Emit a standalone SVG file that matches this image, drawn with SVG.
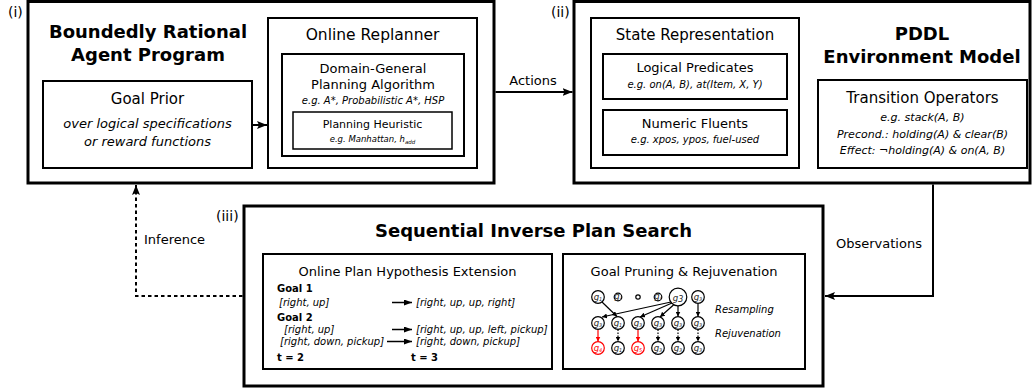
<svg xmlns="http://www.w3.org/2000/svg" width="1033" height="389" viewBox="0 0 1033 389">
<style>
.b3{fill:none;stroke:#000;stroke-width:3}
.b2{fill:none;stroke:#000;stroke-width:2}
.b15{fill:none;stroke:#000;stroke-width:1.5}
text{font-family:"DejaVu Sans","Liberation Sans",sans-serif;fill:#000}
.c{text-anchor:middle}
.bold{font-weight:bold}
.it{font-style:italic}
.lbl{font-size:14px}
.h{font-size:18px;font-weight:bold;text-anchor:middle}
.con{fill:none;stroke:#000;stroke-width:2}
.gc{fill:#fff;stroke:#000;stroke-width:1.2}
.gr{fill:#fff;stroke:#f00;stroke-width:1.2}
.gt{font-size:8.5px;font-style:italic;text-anchor:middle;fill:#222}
.gtr{font-size:8.5px;font-style:italic;text-anchor:middle;fill:#f00}
.ga{fill:none;stroke:#000;stroke-width:1.2}
.gd{fill:none;stroke:#000;stroke-width:1.2;stroke-dasharray:1.5,1.5}
.gra{fill:none;stroke:#f00;stroke-width:1.2}
</style>
<defs>
<marker id="ah" markerUnits="userSpaceOnUse" markerWidth="10" markerHeight="8" refX="10" refY="4" orient="auto">
<path d="M0,0 L10,4 L0,8 L2,4 z" fill="#000"/>
</marker>
<marker id="am" markerUnits="userSpaceOnUse" markerWidth="8" markerHeight="6" refX="8" refY="3" orient="auto">
<path d="M0,0 L8,3 L0,6 z" fill="#000"/>
</marker>
<marker id="as" markerUnits="userSpaceOnUse" markerWidth="5" markerHeight="5" refX="5" refY="2.5" orient="auto">
<path d="M0,0 L5,2.5 L0,5 z" fill="#000"/>
</marker>
<marker id="asr" markerUnits="userSpaceOnUse" markerWidth="5" markerHeight="5" refX="5" refY="2.5" orient="auto">
<path d="M0,0 L5,2.5 L0,5 z" fill="#f00"/>
</marker>
</defs>
<rect width="1033" height="389" fill="#fff"/>

<g id="agent">
<rect class="b3" x="28" y="1.5" width="466" height="181.5"/>
<text class="lbl" x="8" y="17">(i)</text>
<text class="h" x="148" y="38">Boundedly Rational</text>
<text class="h" x="148" y="61">Agent Program</text>
</g>
<g id="goal-prior">
<rect class="b2" x="43" y="81" width="209" height="87"/>
<text class="c" x="147.5" y="104" font-size="15">Goal Prior</text>
<text class="c it" x="147.5" y="128" font-size="13">over logical specifications</text>
<text class="c it" x="147.5" y="146" font-size="13">or reward functions</text>
</g>
<g id="online-replanner">
<rect class="b2" x="268" y="18" width="209" height="150"/>
<text class="c" x="372.5" y="40" font-size="15.5">Online Replanner</text>
</g>
<g id="planning-algorithm">
<rect class="b2" x="282" y="54" width="182" height="102"/>
<text class="c" x="373" y="73" font-size="13">Domain-General</text>
<text class="c" x="373" y="88.5" font-size="13">Planning Algorithm</text>
<text class="c it" x="373" y="104" font-size="10">e.g. A*, Probabilistic A*, HSP</text>
</g>
<g id="planning-heuristic">
<rect class="b15" x="293" y="112" width="159" height="37"/>
<text class="c" x="372.5" y="128" font-size="11">Planning Heuristic</text>
<text class="c it" x="372.5" y="142" font-size="8.5">e.g. Manhattan, h<tspan font-size="5.5" dy="1.5">add</tspan></text>
</g>

<g id="environment">
<rect class="b3" x="574" y="1.5" width="456" height="181.5"/>
<text class="lbl" x="551" y="17">(ii)</text>
<text class="h" x="922" y="40">PDDL</text>
<text class="h" x="922" y="63">Environment Model</text>
</g>
<g id="state-representation">
<rect class="b2" x="591" y="18" width="208" height="150"/>
<text class="c" x="695" y="40" font-size="15">State Representation</text>
</g>
<g id="logical-predicates">
<rect class="b2" x="603" y="54" width="184" height="45"/>
<text class="c" x="695" y="72" font-size="13">Logical Predicates</text>
<text class="c it" x="695" y="88" font-size="10">e.g. on(A, B), at(Item, X, Y)</text>
</g>
<g id="numeric-fluents">
<rect class="b2" x="603" y="110" width="184" height="45"/>
<text class="c" x="695" y="128" font-size="13">Numeric Fluents</text>
<text class="c it" x="695" y="143" font-size="10">e.g. xpos, ypos, fuel-used</text>
</g>
<g id="transition-operators">
<rect class="b2" x="818" y="80" width="209" height="88"/>
<text class="c" x="922.5" y="103" font-size="15">Transition Operators</text>
<text class="c it" x="922.5" y="121" font-size="11">e.g. stack(A, B)</text>
<text class="c it" x="922.5" y="138" font-size="11">Precond.: holding(A) &amp; clear(B)</text>
<text class="c it" x="922.5" y="154" font-size="11">Effect: ¬holding(A) &amp; on(A, B)</text>
</g>

<g id="sips">
<rect class="b3" x="244" y="206" width="579" height="180"/>
<text class="lbl" x="216" y="221">(iii)</text>
<text class="h" x="533.5" y="237">Sequential Inverse Plan Search</text>
</g>
<g id="plan-extension">
<rect class="b2" x="263" y="254" width="289" height="115"/>
<text class="c" x="407.5" y="276" font-size="13">Online Plan Hypothesis Extension</text>
<text class="bold" x="277" y="292" font-size="10">Goal 1</text>
<text class="it" x="279" y="306" font-size="10">[right, up]</text>
<text class="it" x="416" y="306" font-size="10">[right, up, up, right]</text>
<text class="bold" x="277" y="321" font-size="10">Goal 2</text>
<text class="it" x="284" y="333" font-size="10">[right, up]</text>
<text class="it" x="416" y="333" font-size="10">[right, up, up, left, pickup]</text>
<text class="it" x="280" y="345" font-size="10">[right, down, pickup]</text>
<text class="it" x="416" y="345" font-size="10">[right, down, pickup]</text>
<text class="bold" x="277" y="361" font-size="10">t = 2</text>
<text class="bold" x="411" y="361" font-size="10">t = 3</text>
<line class="b15" x1="392" y1="302.5" x2="412" y2="302.5" marker-end="url(#am)"/>
<line class="b15" x1="392" y1="329.5" x2="412" y2="329.5" marker-end="url(#am)"/>
<line class="b15" x1="387" y1="341.5" x2="412" y2="341.5" marker-end="url(#am)"/>
</g>
<g id="goal-pruning">
<rect class="b2" x="563" y="254" width="242" height="115"/>
<text class="c" x="684" y="276" font-size="13">Goal Pruning &amp; Rejuvenation</text>
<text class="it" x="715" y="313" font-size="10">Resampling</text>
<text class="it" x="715" y="337" font-size="10">Rejuvenation</text>
<line class="ga" x1="602" y1="302" x2="617" y2="316.5" marker-end="url(#as)"/>
<line class="ga" x1="671" y1="302" x2="602" y2="317" marker-end="url(#as)"/>
<line class="ga" x1="672" y1="303" x2="640" y2="317" marker-end="url(#as)"/>
<line class="ga" x1="674" y1="304.5" x2="660" y2="317" marker-end="url(#as)"/>
<line class="ga" x1="678" y1="306" x2="678" y2="316.5" marker-end="url(#as)"/>
<line class="ga" x1="698" y1="304" x2="698" y2="316.5" marker-end="url(#as)"/>
<line class="gra" x1="598" y1="329.5" x2="598" y2="341.5" marker-end="url(#asr)"/>
<line class="gd" x1="618" y1="329.5" x2="618" y2="341.5" marker-end="url(#as)"/>
<line class="gra" x1="638" y1="329.5" x2="638" y2="341.5" marker-end="url(#asr)"/>
<line class="gd" x1="658" y1="329.5" x2="658" y2="341.5" marker-end="url(#as)"/>
<line class="gd" x1="678" y1="329.5" x2="678" y2="341.5" marker-end="url(#as)"/>
<line class="gd" x1="698" y1="329.5" x2="698" y2="341.5" marker-end="url(#as)"/>
<circle class="gc" cx="598" cy="297" r="6.3"/><text class="gt" x="598" y="299.5">g<tspan font-size="5" dy="1">1</tspan></text>
<circle class="gc" cx="618" cy="297" r="3.8"/><text class="gt" x="618" y="298.5" font-size="5">g<tspan font-size="3" dy="0.6">2</tspan></text>
<circle class="gc" cx="638" cy="297" r="2.2"/>
<circle class="gc" cx="658" cy="297" r="3.8"/><text class="gt" x="658" y="298.5" font-size="5">g<tspan font-size="3" dy="0.6">4</tspan></text>
<circle class="gc" cx="678" cy="297" r="8.8"/><text class="gt" x="678" y="300.5" font-size="13" fill="#000">g<tspan font-size="8" dy="1.5">3</tspan></text>
<circle class="gc" cx="698" cy="297" r="6.3"/><text class="gt" x="698" y="299.5">g<tspan font-size="5" dy="1">3</tspan></text>
<circle class="gc" cx="598" cy="323" r="6.3"/><text class="gt" x="598" y="325.5">g<tspan font-size="5" dy="1">3</tspan></text>
<circle class="gc" cx="618" cy="323" r="6.3"/><text class="gt" x="618" y="325.5">g<tspan font-size="5" dy="1">1</tspan></text>
<circle class="gc" cx="638" cy="323" r="6.3"/><text class="gt" x="638" y="325.5">g<tspan font-size="5" dy="1">3</tspan></text>
<circle class="gc" cx="658" cy="323" r="6.3"/><text class="gt" x="658" y="325.5">g<tspan font-size="5" dy="1">3</tspan></text>
<circle class="gc" cx="678" cy="323" r="6.3"/><text class="gt" x="678" y="325.5">g<tspan font-size="5" dy="1">3</tspan></text>
<circle class="gc" cx="698" cy="323" r="6.3"/><text class="gt" x="698" y="325.5">g<tspan font-size="5" dy="1">3</tspan></text>
<circle class="gr" cx="598" cy="348" r="6.3"/><text class="gtr" x="598" y="350.5">g<tspan font-size="5" dy="1">4</tspan></text>
<circle class="gc" cx="618" cy="348" r="6.3"/><text class="gt" x="618" y="350.5">g<tspan font-size="5" dy="1">1</tspan></text>
<circle class="gr" cx="638" cy="348" r="6.3"/><text class="gtr" x="638" y="350.5">g<tspan font-size="5" dy="1">5</tspan></text>
<circle class="gc" cx="658" cy="348" r="6.3"/><text class="gt" x="658" y="350.5">g<tspan font-size="5" dy="1">3</tspan></text>
<circle class="gc" cx="678" cy="348" r="6.3"/><text class="gt" x="678" y="350.5">g<tspan font-size="5" dy="1">3</tspan></text>
<circle class="gc" cx="698" cy="348" r="6.3"/><text class="gt" x="698" y="350.5">g<tspan font-size="5" dy="1">3</tspan></text>
</g>

<g id="connectors">
<line class="con" x1="253" y1="125" x2="267" y2="125" marker-end="url(#ah)"/>
<line class="con" x1="495.5" y1="92" x2="572.5" y2="92" marker-end="url(#ah)"/>
<text x="533" y="85" font-size="13" text-anchor="middle">Actions</text>
<path class="con" d="M933,184.5 V296 H825" marker-end="url(#ah)"/>
<text x="836" y="248" font-size="13">Observations</text>
<path class="con" d="M242.5,296 H136 V185" stroke-dasharray="3.5,3" marker-end="url(#ah)"/>
<text x="144" y="244" font-size="13">Inference</text>
</g>
</svg>
